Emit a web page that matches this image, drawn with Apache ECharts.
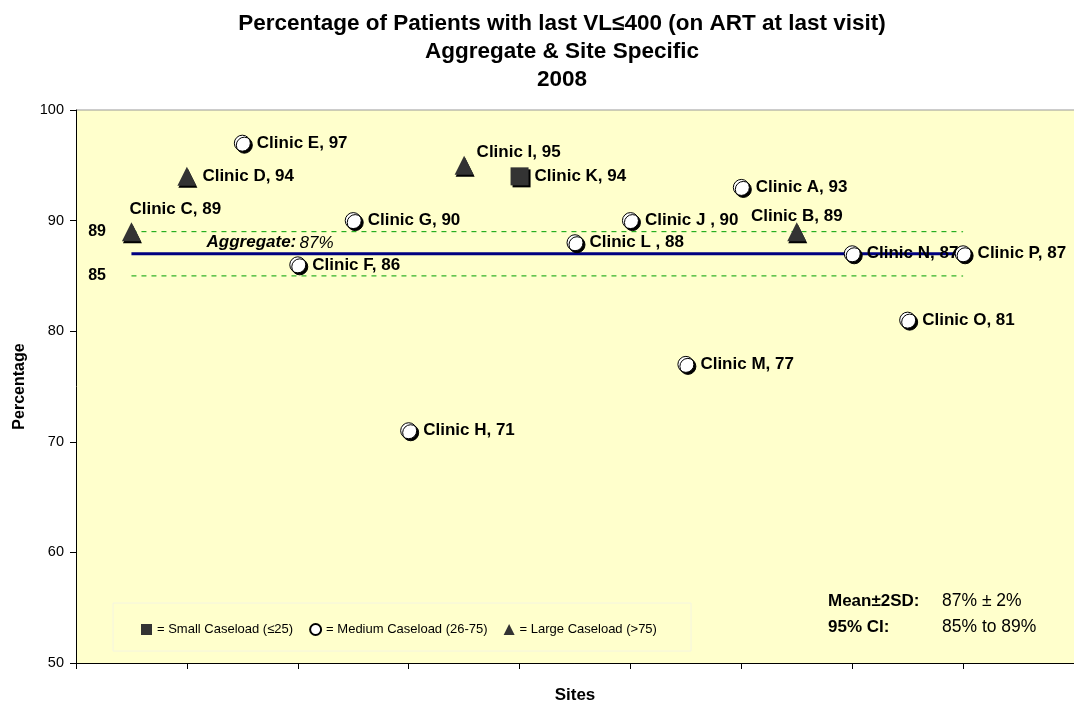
<!DOCTYPE html>
<html>
<head>
    <meta charset="UTF-8">
    <title>VL chart</title>
    <script src="https://cdn.jsdelivr.net/npm/echarts@6/dist/echarts.min.js"></script>
    <style>
        body { margin: 0; background: #fff; }
        #chart { width: 1074px; height: 705px; }
    </style>
</head>
<body>
<div id="chart"></div>
<script>
    // sites, left to right
    const clinics = ['Clinic C', 'Clinic D', 'Clinic E', 'Clinic F', 'Clinic G', 'Clinic H', 'Clinic I', 'Clinic K',
        'Clinic L ', 'Clinic J ', 'Clinic M', 'Clinic A', 'Clinic B', 'Clinic N', 'Clinic O', 'Clinic P'];
    const sitePos = [0.5, 1, 1.5, 2, 2.5, 3, 3.5, 4, 4.5, 5, 5.5, 6, 6.5, 7, 7.5, 8];
    const percent = [89, 94, 97, 86, 90, 71, 95, 94, 88, 90, 77, 93, 89, 87, 81, 87];
    const caseload = ['L', 'L', 'M', 'M', 'M', 'M', 'L', 'S', 'M', 'M', 'M', 'M', 'L', 'M', 'M', 'M'];
    const aggregate = 87;
    const ciLow = 85;
    const ciHigh = 89;
    const lineSpan = [0.5, 8];

    const FONT = 'Arial, Liberation Sans';
    const chart = echarts.init(document.getElementById('chart'));

    function pointsFor(type) {
        let out = [];
        for (let i = 0; i < clinics.length; i++) {
            if (caseload[i] !== type) continue;
            let p = {value: [sitePos[i], percent[i]], name: clinics[i] + ', ' + percent[i]};
            if (clinics[i] === 'Clinic C') p.label = {position: 'top', align: 'left', offset: [-2, 2]};
            if (clinics[i] === 'Clinic B') p.label = {position: 'top', offset: [0, 9]};
            if (clinics[i] === 'Clinic I') p.label = {offset: [-3, -13]};
            out.push(p);
        }
        return out;
    }

    const ptLabel = {
        show: true, position: 'right', distance: 6, formatter: '{b}',
        fontFamily: FONT, fontWeight: 'bold', fontSize: 17, color: '#000'
    };

    function refLine(val, color, width, type, lbl) {
        return {
            type: 'line', symbol: 'circle', symbolSize: 1, showSymbol: true, silent: true, z: 1,
            data: [[lineSpan[0], val], [lineSpan[1], val]],
            itemStyle: {color: 'rgba(0,0,0,0)'},
            lineStyle: {color: color, width: width, type: type},
            label: lbl ? {
                show: true, position: 'left', distance: 25,
                formatter: function (p) { return p.dataIndex === 0 ? String(val) : ''; },
                fontFamily: FONT, fontWeight: 'bold', fontSize: 16, color: '#000'
            } : {show: false}
        };
    }

    const aggLine = refLine(aggregate, '#000080', 3, 'solid', false);
    aggLine.markPoint = {
        symbol: 'circle', symbolSize: 1,
        itemStyle: {color: 'rgba(0,0,0,0)'},
        data: [{coord: [1.75, aggregate], value: aggregate}],
        label: {
            show: true, position: 'top', distance: 2,
            formatter: '{a|Aggregate:} {b|' + aggregate + '%}',
            rich: {
                a: {fontFamily: FONT, fontStyle: 'italic', fontWeight: 'bold', fontSize: 17, color: '#000'},
                b: {fontFamily: FONT, fontStyle: 'italic', fontSize: 17, color: '#000'}
            }
        }
    };

    const option = {
        backgroundColor: '#fff',
        animation: false,
        title: {
            text: 'Percentage of Patients with last VL≤400 (on ART at last visit)\nAggregate & Site Specific\n2008',
            left: 557, top: 5, textAlign: 'center',
            textStyle: {fontFamily: FONT, fontWeight: 'bold', fontSize: 22.5, lineHeight: 28, color: '#000'}
        },
        legend: {
            left: 136, top: 618, itemWidth: 11, itemHeight: 11, itemGap: 16,
            data: ['= Small Caseload (≤25)', '= Medium Caseload (26-75)', '= Large Caseload (>75)'],
            textStyle: {fontFamily: FONT, fontSize: 13, color: '#000', padding: [0, 0, 0, 0]}
        },
        grid: {
            left: 76, right: 0, top: 110, bottom: 42, show: true, backgroundColor: '#FFFFCC', borderWidth: 0,
            containLabel: false, outerBoundsMode: 'none'
        },
        xAxis: {
            type: 'value', min: 0, max: 9, interval: 1,
            name: 'Sites', nameLocation: 'middle', nameGap: 24,
            nameTextStyle: {fontFamily: FONT, fontWeight: 'bold', fontSize: 17, color: '#000'},
            axisLine: {show: true, lineStyle: {color: '#000', width: 1}},
            axisTick: {show: true, length: 6, lineStyle: {color: '#000'}},
            axisLabel: {show: false},
            splitLine: {show: false}
        },
        yAxis: {
            type: 'value', min: 50, max: 100, interval: 10,
            name: 'Percentage', nameLocation: 'middle', nameGap: 48, nameRotate: 90,
            nameTextStyle: {fontFamily: FONT, fontWeight: 'bold', fontSize: 16, color: '#000'},
            axisLine: {show: true, lineStyle: {color: '#000', width: 1}},
            axisTick: {show: true, length: 6, lineStyle: {color: '#000'}},
            axisLabel: {fontFamily: FONT, fontSize: 14.5, color: '#000', margin: 12},
            splitLine: {show: false}
        },
        graphic: [
            {type: 'line', shape: {x1: 76, y1: 110, x2: 1074, y2: 110}, style: {stroke: '#999', lineWidth: 1}},
            {type: 'rect', shape: {x: 113, y: 603, width: 578, height: 48}, style: {fill: 'none', stroke: '#f4f4e0', lineWidth: 1}},
            {
                type: 'text', left: 828, top: 592,
                style: {
                    text: '{a|Mean±2SD:}{b|87% ± 2%}\n{a|95% CI:}{b|85% to 89%}',
                    rich: {
                        a: {fontFamily: FONT, fontWeight: 'bold', fontSize: 17, lineHeight: 26, width: 114, fill: '#000'},
                        b: {fontFamily: FONT, fontSize: 17.5, lineHeight: 26, fill: '#000'}
                    }
                }
            }
        ],
        series: [
            refLine(ciHigh, '#00A000', 1, [5, 5], true),
            refLine(ciLow, '#00A000', 1, [5, 5], true),
            aggLine,
            {
                name: '= Small Caseload (≤25)', type: 'scatter', symbol: 'rect', symbolSize: 18, z: 5,
                data: pointsFor('S'),
                itemStyle: {color: '#333', opacity: 1, shadowColor: '#000', shadowOffsetX: 2, shadowOffsetY: 2},
                label: ptLabel
            },
            {
                name: '= Medium Caseload (26-75)', type: 'scatter', symbol: 'circle', symbolSize: 16, z: 5,
                data: pointsFor('M'),
                itemStyle: {color: '#fff', opacity: 1, borderColor: '#000', borderWidth: 1, shadowColor: '#000', shadowOffsetX: 2, shadowOffsetY: 2},
                label: ptLabel
            },
            {
                name: '= Large Caseload (>75)', type: 'scatter', symbol: 'triangle', symbolSize: 19, z: 5,
                data: pointsFor('L'),
                itemStyle: {color: '#333', opacity: 1, shadowColor: '#000', shadowOffsetX: 1, shadowOffsetY: 2},
                label: ptLabel
            }
        ]
    };

    chart.setOption(option);
</script>
</body>
</html>
